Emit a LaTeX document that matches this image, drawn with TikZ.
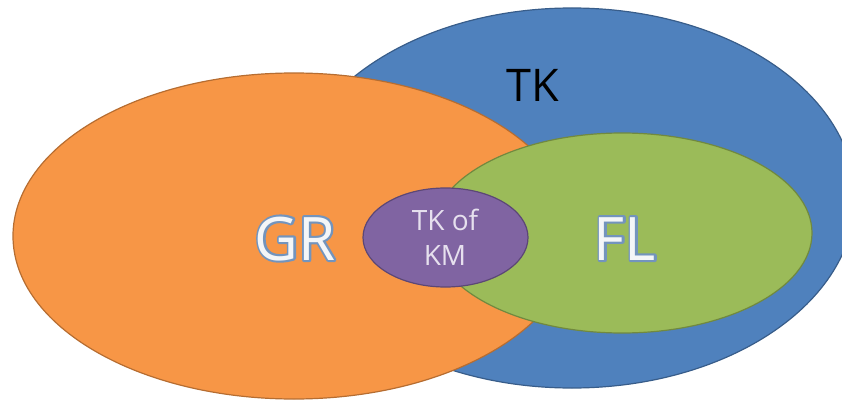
\documentclass[tikz,border=0pt]{standalone}
\usepackage{fontspec}
\setmainfont{Open Sans}
\usetikzlibrary{shapes.geometric}
\definecolor{bluefill}{HTML}{4F81BD}
\definecolor{blueline}{HTML}{385D8A}
\definecolor{orangefill}{HTML}{F79646}
\definecolor{orangeline}{HTML}{B66D31}
\definecolor{greenfill}{HTML}{9BBB59}
\definecolor{greenline}{HTML}{71893F}
\definecolor{purplefill}{HTML}{8064A2}
\definecolor{purpleline}{HTML}{5C4776}
\definecolor{purpletext}{HTML}{E6E0EE}
\definecolor{labelfill}{HTML}{F4F6F8}
\newcommand{\outlinedtext}[1]{\rlap{\special{pdf:code 1 Tr 4.2 w 1 j 0.45 0.58 0.74 RG}#1\special{pdf:code 0 Tr}}#1}
\begin{document}
\begin{tikzpicture}[x=1pt,y=-1pt,
  venn/.style={ellipse, inner sep=0pt, line width=1.2pt},
  biglabel/.style={font=\fontsize{60}{72}\selectfont, text=labelfill, anchor=base, inner sep=0pt}]
\useasboundingbox (0,0) rectangle (842,401);
\node[venn, fill=bluefill, draw=blueline, minimum width=566pt, minimum height=380pt] (tk) at (572,198) {};
\node[venn, fill=orangefill, draw=orangeline, minimum width=562pt, minimum height=326pt] (gr) at (294,236) {};
\node[venn, fill=greenfill, draw=greenline, minimum width=380pt, minimum height=200pt] (fl) at (622,233) {};
\node[venn, fill=purplefill, draw=purpleline, minimum width=165pt, minimum height=99pt] (km) at (445.5,237.5) {};
\node[font=\fontsize{45}{54}\selectfont, anchor=base, inner sep=0pt] (tklabel) at (533,102) {TK};
\node[biglabel] (grlabel) at (295,260) {\outlinedtext{GR}};
\node[biglabel] (fllabel) at (625,260) {\outlinedtext{FL}};
\node[font=\fontsize{28}{35}\selectfont, text=purpletext, align=center, inner sep=0pt] (kmlabel) at (445,237) {TK of\\KM};
\end{tikzpicture}
\end{document}
